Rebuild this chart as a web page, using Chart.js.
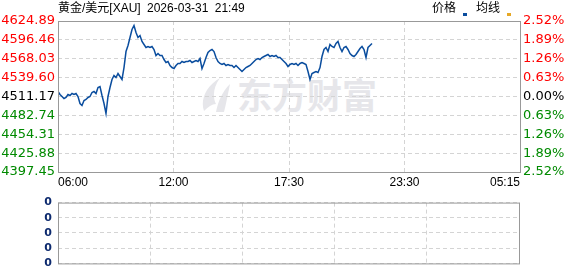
<!DOCTYPE html>
<html lang="zh">
<head>
<meta charset="UTF-8">
<title>黄金/美元</title>
<style>
  body { margin: 0; background: #fff; }
  #wrap { position: relative; width: 578px; height: 276px; overflow: hidden; }
  #wrap canvas { position: absolute; left: 0; }
  #mainChart { top: 0; z-index: 2; }
  #volChart { top: 190px; z-index: 2; }
  .txt { position: absolute; font: 12px "Liberation Sans", "Noto Sans CJK SC", sans-serif; line-height: 16px; color: #000; white-space: nowrap; z-index: 3; }
  #title { left: 58px; top: 0; word-spacing: 3px; }
  .mark { position: absolute; top: 13px; width: 4px; height: 3px; z-index: 3; }
  #wm { position: absolute; left: 198px; top: 74px; z-index: 1; color: #e6e6ea; font: bold 35px "Noto Sans CJK SC", sans-serif; line-height: 40px; white-space: nowrap; }
  #wm svg { vertical-align: top; margin-right: 5px; }
</style>
</head>
<body>
<div id="wrap">
  <div id="title" class="txt">黄金/美元[XAU] 2026-03-31 21:49</div>
  <div class="txt" style="left:432px;top:0">价格</div>
  <div class="mark" style="left:463px;background:#0a4d9e"></div>
  <div class="txt" style="left:476px;top:0">均线</div>
  <div class="mark" style="left:507px;background:#e6a825"></div>
  <div id="wm"><svg width="34" height="40" viewBox="0 0 34 40"><path d="M6 37 C2 26 8 12 22 4 C16 12 14 22 18 30 C14 30 10 33 6 37 Z M18 38 C20 28 24 18 32 10 C30 20 28 30 26 38 Z" fill="#e6e6ea"/></svg>东方财富</div>
  <canvas id="mainChart" width="578" height="192"></canvas>
  <canvas id="volChart" width="578" height="86"></canvas>
</div>

<script src="https://cdn.jsdelivr.net/npm/chart.js@4.4.0/dist/chart.umd.min.js"></script>
<script>
// 昨收 / 刻度
const prevClose = 4511.17;
const priceTicks = [4397.45, 4425.88, 4454.31, 4482.74, 4511.17, 4539.60, 4568.03, 4596.46, 4624.89];
const pctTicks = [-2.52, -1.89, -1.26, -0.63, 0, 0.63, 1.26, 1.89, 2.52];
const timeLabels = ["06:00", "12:00", "17:30", "23:30", "05:15"];
const volTickLabels = ["0", "0", "0", "0", "0"];

// 分时价格 (06:00 起)
const prices = [
  4518.7, 4514.2, 4511.2, 4508.2, 4509.7, 4514.2, 4512.7, 4515.7, 4514.2, 4515.7,
  4511.2, 4500.6, 4497.6, 4505.1, 4506.7, 4509.7, 4511.2, 4517.2, 4518.7, 4515.7,
  4524.7, 4526.2, 4512.7, 4500.6, 4485.6, 4511.2, 4524.7, 4536.8, 4542.8, 4539.8,
  4545.8, 4541.3, 4536.8, 4554.8, 4578.9, 4588.0, 4600.0, 4612.1, 4618.1, 4607.6,
  4600.0, 4603.0, 4594.0, 4589.5, 4585.0, 4586.5, 4585.0, 4586.5, 4582.0, 4572.9,
  4575.9, 4572.9, 4572.9, 4566.9, 4562.4, 4563.9, 4557.9, 4554.8, 4553.3, 4557.9,
  4560.9, 4560.9, 4563.9, 4562.4, 4563.9, 4563.9, 4565.4, 4562.4, 4563.9, 4565.4,
  4563.9, 4568.4, 4553.3, 4560.9, 4569.9, 4577.4, 4580.4, 4582.0, 4578.9, 4569.9,
  4563.9, 4560.9, 4559.4, 4560.9, 4557.9, 4559.4, 4557.9, 4557.9, 4554.8, 4557.9,
  4554.8, 4551.8, 4548.8, 4551.8, 4554.8, 4556.4, 4557.9, 4560.9, 4563.9, 4566.9,
  4568.4, 4566.9, 4569.9, 4571.4, 4572.9, 4574.4, 4571.4, 4572.9, 4571.4, 4572.9,
  4569.9, 4569.9, 4566.9, 4563.9, 4560.9, 4556.4, 4559.4, 4560.9, 4559.4, 4560.9,
  4557.9, 4560.9, 4562.4, 4560.9, 4559.4, 4548.8, 4536.8, 4545.8, 4547.3, 4548.8,
  4547.3, 4554.8, 4571.4, 4582.0, 4585.0, 4578.9, 4589.5, 4586.5, 4585.0, 4591.0,
  4594.0, 4585.0, 4578.9, 4585.0, 4586.5, 4582.0, 4575.9, 4572.9, 4571.4, 4574.4,
  4578.9, 4583.5, 4586.5, 4582.0, 4569.9, 4585.0, 4588.0, 4591.0
];
// 成交量 (全为 0)
const volumes = prices.map(() => 0);

const totalSlots = 231;
const timeTickPos = [0, 57.75, 115.5, 173.25, 231];

const gridColor = "#d4d4d4";
const gridDash = [4, 3];

function tickColor(v) {
  const base = v > 100 ? prevClose : 0;
  if (Math.abs(v - base) < 0.001) return "#000";
  return v > base ? "#ff0000" : "#008a00";
}

// 画外框
const frame = {
  id: "frame",
  afterDraw(chart) {
    const a = chart.chartArea, ctx = chart.ctx;
    ctx.save();
    ctx.strokeStyle = "#999";
    ctx.lineWidth = 1;
    ctx.strokeRect(a.left + 0.5, a.top + 0.5, a.right - a.left, a.bottom - a.top);
    ctx.restore();
  }
};

const mainChart = new Chart(document.getElementById("mainChart"), {
  type: "line",
  data: {
    datasets: [{
      label: "价格",
      data: prices.map((p, i) => ({ x: i, y: p })),
      borderColor: "#0a4d9e",
      borderWidth: 1.5,
      pointRadius: 0,
      tension: 0,
      yAxisID: "y"
    }]
  },
  options: {
    responsive: false,
    animation: false,
    devicePixelRatio: 1,
    layout: { padding: { top: 21, left: 0, right: 0, bottom: 0 } },
    plugins: { legend: { display: false }, tooltip: { enabled: false } },
    scales: {
      x: {
        type: "linear", min: 0, max: totalSlots,
        afterBuildTicks: s => { s.ticks = timeTickPos.map(v => ({ value: v })); },
        afterFit: s => { s.height = 20; },
        ticks: {
          callback: (v, i) => timeLabels[i],
          align: "inner", maxRotation: 0, autoSkip: false, padding: 3,
          color: "#000", font: { family: "Liberation Sans", size: 12 }
        },
        grid: { color: gridColor, drawTicks: false },
        border: { display: false, dash: gridDash }
      },
      y: {
        position: "left",
        min: priceTicks[0], max: priceTicks[priceTicks.length - 1],
        afterBuildTicks: s => { s.ticks = priceTicks.map(v => ({ value: v })); },
        afterFit: s => { s.width = 58; },
        ticks: {
          callback: v => v.toFixed(2), padding: 3,
          color: c => tickColor(c.tick.value),
          font: { family: "DejaVu Sans", size: 13 }
        },
        grid: { color: gridColor, drawTicks: false },
        border: { display: false, dash: gridDash }
      },
      y2: {
        position: "right",
        min: pctTicks[0], max: pctTicks[pctTicks.length - 1],
        afterBuildTicks: s => { s.ticks = pctTicks.map(v => ({ value: v })); },
        afterFit: s => { s.width = 58; },
        ticks: {
          callback: v => Math.abs(v).toFixed(2) + "%", padding: 3,
          color: c => tickColor(c.tick.value),
          font: { family: "DejaVu Sans", size: 13 }
        },
        grid: { display: false, drawTicks: false },
        border: { display: false }
      }
    }
  },
  plugins: [frame]
});

const volChart = new Chart(document.getElementById("volChart"), {
  type: "bar",
  data: {
    datasets: [{
      label: "成交量",
      data: volumes.map((v, i) => ({ x: i, y: v })),
      backgroundColor: "#0a4d9e"
    }]
  },
  options: {
    responsive: false,
    animation: false,
    devicePixelRatio: 1,
    layout: { padding: { top: 7, left: 0, right: 59, bottom: 6 } },
    plugins: { legend: { display: false }, tooltip: { enabled: false } },
    scales: {
      x: {
        type: "linear", min: 0, max: totalSlots,
        afterBuildTicks: s => { s.ticks = timeTickPos.map(v => ({ value: v })); },
        afterFit: s => { s.height = 0; },
        ticks: { display: false },
        grid: { color: gridColor, drawTicks: false },
        border: { display: false, dash: gridDash }
      },
      y: {
        min: 0, max: 4,
        afterBuildTicks: s => { s.ticks = [0, 1, 2, 3, 4].map(v => ({ value: v })); },
        afterFit: s => { s.width = 58; },
        ticks: {
          callback: (v, i) => volTickLabels[i], padding: 6,
          color: "#0d2a6e",
          font: { family: "DejaVu Sans", size: 11, weight: "bold" }
        },
        grid: { color: gridColor, drawTicks: false },
        border: { display: false, dash: gridDash }
      }
    }
  },
  plugins: [frame]
});
</script>
</body>
</html>
